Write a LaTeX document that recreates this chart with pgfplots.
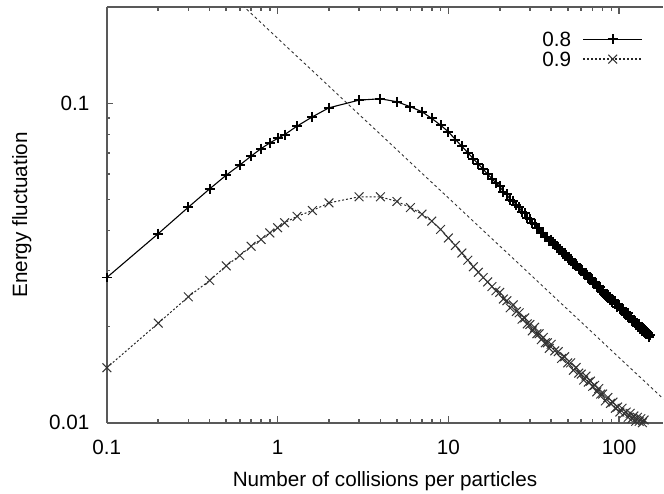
\documentclass[border=0pt]{standalone}
\usepackage{fontspec}
\setmainfont{Liberation Sans}
\usepackage{pgfplots}
\usepackage{pgfplotstable}
\pgfplotsset{compat=1.18}

\pgfplotstableread{
x y
0.1 0.0285
0.2 0.0391
0.3 0.0473
0.4 0.0540
0.5 0.0596
0.6 0.0641
0.7 0.0684
0.8 0.0722
0.9 0.0752
1.0 0.0777
1.1 0.0799
1.3 0.0849
1.6 0.0908
2 0.0969
3 0.1024
4 0.1034
5 0.1012
6 0.0976
7 0.0942
8 0.0897
9 0.0855
10 0.0815
11 0.0771
12 0.0734
13 0.0701
14 0.0671
15 0.0645
16 0.0622
17 0.0600
18 0.0581
19 0.0563
20 0.0551
21 0.0528
22 0.0519
23 0.0500
24 0.0496
25 0.0480
26 0.0473
27 0.0457
28 0.0453
29 0.0439
30 0.0435
31 0.0421
32 0.0420
33 0.0408
34 0.0406
35 0.0394
36 0.0394
37 0.0383
38 0.0382
39 0.0371
40 0.0374
41 0.0368
42 0.0359
43 0.0353
44 0.0356
45 0.0351
46 0.0342
47 0.0338
48 0.0340
49 0.0335
50 0.0329
51 0.0324
52 0.0326
53 0.0322
54 0.0314
55 0.0311
56 0.0314
57 0.0310
58 0.0304
59 0.0300
60 0.0302
61 0.0300
62 0.0292
63 0.0290
64 0.0294
65 0.0291
66 0.0284
67 0.0281
68 0.0284
69 0.0281
70 0.0274
71 0.0272
72 0.0276
73 0.0274
74 0.0268
75 0.0265
76 0.0268
77 0.0266
78 0.0259
79 0.0257
80 0.0261
82 0.0253
83 0.0252
85 0.0247
86 0.0251
88 0.0248
89 0.0243
91 0.0239
92 0.0243
94 0.0240
95 0.0235
97 0.0231
98 0.0235
100 0.0233
101 0.0228
103 0.0225
104 0.0228
106 0.0226
107 0.0221
109 0.0218
110 0.0222
112 0.0220
113 0.0215
115 0.0213
116 0.0216
118 0.0214
119 0.0209
121 0.0207
122 0.0210
124 0.0209
125 0.0204
127 0.0202
128 0.0205
130 0.0204
131 0.0199
133 0.0197
134 0.0200
136 0.0199
137 0.0194
139 0.0193
140 0.0196
142 0.0195
143 0.0190
145 0.0189
146 0.0192
148 0.0191
149 0.0186
151 0.0188
}\dataA

\pgfplotstableread{
x y
0.1 0.01487
0.2 0.0205
0.3 0.0248
0.4 0.0279
0.5 0.0310
0.6 0.0334
0.7 0.0357
0.8 0.0375
0.9 0.0393
1.0 0.0408
1.1 0.0423
1.3 0.0443
1.6 0.0462
2 0.0488
3 0.0510
4 0.0510
5 0.0493
6 0.0472
7 0.0450
8 0.0428
9 0.0403
10 0.0379
11 0.0359
12 0.0340
13 0.0323
14 0.0308
15 0.0296
16 0.0285
17 0.0276
18 0.0267
19 0.0259
20 0.0256
21 0.0244
22 0.0241
23 0.0229
24 0.0234
25 0.0223
26 0.0221
27 0.0211
28 0.0213
29 0.0204
30 0.0203
31 0.0194
32 0.0199
33 0.0190
34 0.0190
35 0.0182
36 0.0185
37 0.0178
38 0.0178
39 0.0171
40 0.0176
42 0.0168
44 0.0167
46 0.0159
48 0.0161
50 0.0154
52 0.0154
54 0.0146
56 0.0149
58 0.0143
60 0.0142
62 0.0136
64 0.0140
66 0.0134
68 0.0135
70 0.0130
72 0.0131
74 0.0125
76 0.0128
78 0.0123
80 0.0123
83 0.0117
86 0.0120
89 0.0115
92 0.0116
95 0.0111
98 0.0112
101 0.0108
104 0.0111
107 0.0107
110 0.0108
113 0.0104
116 0.0107
119 0.0103
122 0.0105
125 0.0101
128 0.0104
131 0.0101
134 0.0103
137 0.0100
140 0.0102
143 0.0099
}\dataB

\definecolor{axisgray}{gray}{0.35}

\begin{document}
\fontsize{10.35}{12.4}\selectfont
\begin{tikzpicture}[font=\fontsize{10.35}{12.4}\selectfont]
\begin{axis}[
  xmode=log, ymode=log,
  scale only axis,
  width=278.5pt, height=208pt,
  xmin=0.1, xmax=181, ymin=0.01, ymax=0.2,
  axis x line=box, axis y line=left,
  axis line style={-, line width=0.9pt, axisgray},
  y axis line style={-},
  tick style={axisgray, line width=0.8pt},
  tick align=inside,
  major tick length=3.3pt, minor tick length=1.8pt,
  xtick={0.1,1,10,100}, xticklabels={0.1,1,10,100},
  minor xtick={0.2,0.3,0.4,0.5,0.6,0.7,0.8,0.9,2,3,4,5,6,7,8,9,20,30,40,50,60,70,80,90},
  ytick={0.01,0.1}, yticklabels={0.01,0.1},
  minor ytick={0.02,0.03,0.04,0.05,0.06,0.07,0.08,0.09},
  /pgf/number format/assume math mode=true,
  xticklabel style={anchor=base, yshift=-15.85pt, inner sep=0pt, font=\fontsize{10.35}{12.4}\selectfont},
  yticklabel style={anchor=east, xshift=-8.5pt, inner sep=0pt, font=\fontsize{10.35}{12.4}\selectfont},
  xlabel={Number of collisions per particles},
  ylabel={Energy fluctuation},
  x label style={at={([yshift=-31.85pt]axis description cs:0.5,0)}, anchor=base, inner sep=0pt, font=\fontsize{10.35}{12.4}\selectfont},
  y label style={at={([xshift=-42.65pt]axis description cs:0,0.5)}, anchor=center, inner sep=0pt, font=\fontsize{10.35}{12.4}\selectfont},
  legend plot pos=right,
  legend image code/.code={\draw[mark repeat=2,mark phase=2,#1,line width=0.85pt] plot coordinates {(0pt,0pt) (14.75pt,0pt) (29.5pt,0pt)};},
  legend style={draw=none, fill=none, at={(axis description cs:1,1)}, anchor=north east,
    xshift=-9.85pt, yshift=-11.8pt, inner sep=0pt, row sep=1.6pt, column sep=5.15pt,
    nodes={inner sep=0.5pt, text depth=0pt}, font=\fontsize{10.35}{12.4}\selectfont},
]
\addplot[black!80, line width=0.45pt, dash pattern=on 1.4pt off 1.4pt, forget plot] coordinates {(0.5,0.22627) (200,0.011314)};
\addplot[black, line width=0.55pt, mark=+, mark size=2.5pt, mark options={solid, line width=1pt}] table {\dataA};
\addlegendentry{0.8}
\addplot[black!85, line width=0.5pt, dash pattern=on 1pt off 1pt, mark=x, mark size=3.1pt, mark options={solid, line width=0.5pt, black!80}] table {\dataB};
\addlegendentry{0.9}
\coordinate (bbsw) at (rel axis cs:0,0);
\coordinate (bbne) at (rel axis cs:1,1);
\end{axis}
\path ([xshift=-53.5pt,yshift=-35.35pt]bbsw) rectangle ([yshift=3.65pt]bbne);
\end{tikzpicture}
\end{document}
